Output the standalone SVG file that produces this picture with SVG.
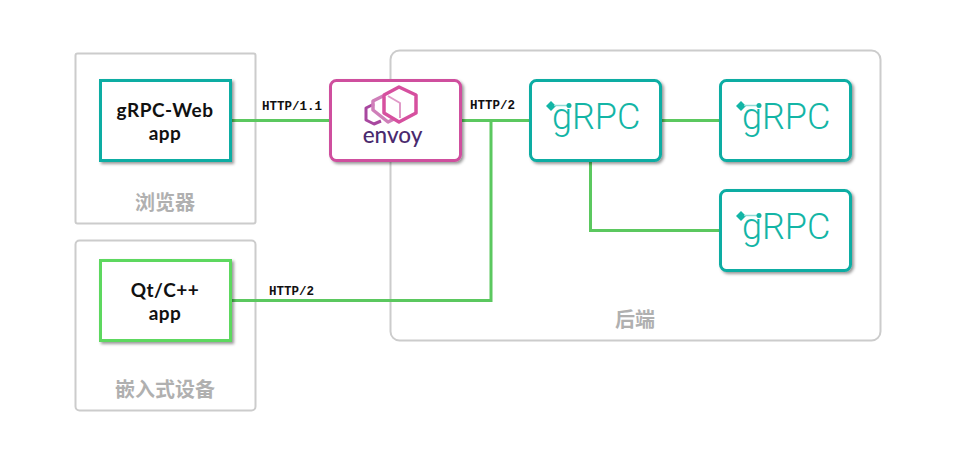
<svg xmlns="http://www.w3.org/2000/svg" width="960" height="460" viewBox="0 0 960 460">
<defs>
<filter id="sh" x="-10%" y="-10%" width="125%" height="125%"><feDropShadow dx="2" dy="2" stdDeviation="1.600" flood-color="#000" flood-opacity="0.4"/></filter>
<g id="grpc-logo">
<path d="M0-5L5 0L0 5L-5 0Z" transform="translate(5 1)" fill="#13b5a6"/>
<line x1="8" y1="0.500" x2="23" y2="0.500" stroke="#8fdcd5" stroke-width="1.500"/>
<circle cx="23" cy="0.500" r="2.500" fill="#13b5a6"/>
<text x="6" y="24" class="logo">gRPC</text>
</g>
</defs>
<style>
.grp{fill:#fff;stroke:#ccc;stroke-width:2}
.card{fill:#fff;stroke-width:3;filter:url(#sh)}
.teal{stroke:#0aada3}
.green{stroke:#5dd85f}
.pink{stroke:#cf4f9e}
.conn{fill:none;stroke:#5bc85f;stroke-width:3}
.lab{font:700 12.500px "Liberation Mono","DejaVu Sans Mono",monospace;fill:#111}
.app{font:700 19px Lato,"Noto Sans","Noto Sans CJK SC",sans-serif;fill:#111;text-anchor:middle;letter-spacing:.5px}
.cap{font:700 20px "Noto Sans CJK SC","Noto Sans",sans-serif;fill:#b0b0b0;text-anchor:middle}
.logo{font:300 36px Roboto,"Open Sans",sans-serif;fill:#13b5a6}
.hex{fill:none;stroke-linejoin:round}
</style>
<g id="group-browser"><rect class="grp" x="75.500" y="53.500" width="180" height="170" rx="2"/><text class="cap" x="165" y="210">浏览器</text></g>
<g id="group-device"><rect class="grp" x="75.500" y="240.500" width="180" height="170" rx="4"/><text class="cap" x="165" y="397">嵌入式设备</text></g>
<g id="group-backend"><rect class="grp" x="390.500" y="50.500" width="490" height="290" rx="9"/><text class="cap" x="635" y="327">后端</text></g>
<g id="connectors">
<path class="conn" d="M230 120.500H332"/>
<path class="conn" d="M460 120.500H532"/>
<path class="conn" d="M230 300.500H491V120.500"/>
<path class="conn" d="M660 120.500H722"/>
<path class="conn" d="M590.500 160V230.500H722"/>
</g>
<g id="labels">
<text class="lab" x="262" y="110">HTTP/1.1</text>
<text class="lab" x="470" y="109">HTTP/2</text>
<text class="lab" x="269" y="295">HTTP/2</text>
</g>
<g id="node-web"><rect class="card teal" x="100.500" y="80.500" width="130" height="80"/><text class="app" x="165" y="117">gRPC-Web</text><text class="app" x="165" y="140">app</text></g>
<g id="node-qt"><rect class="card green" x="100.500" y="260.500" width="130" height="80"/><text class="app" x="165" y="297">Qt/C++</text><text class="app" x="165" y="320">app</text></g>
<g id="node-envoy"><rect class="card pink" x="330.500" y="80.500" width="130" height="80" rx="6"/>
<path class="hex" stroke="#a8479f" stroke-width="3" d="M374 104L366 108V120L374 124L381 121"/>
<path class="hex" stroke="#cf7fb9" stroke-width="3.500" d="M383 96L373 101V110L383 118L388 122L394 119"/>
<path class="hex" stroke="#e09ac8" stroke-width="2" d="M388 96L400 103V118"/>
<path class="hex" stroke="#d6509f" stroke-width="3.500" d="M399 87L416 95V113L399 122L384 113V95Z"/>
<text x="392.500" y="143" text-anchor="middle" style="font:500 22.500px Lato,'Open Sans',sans-serif;fill:#4a2a6e">envoy</text></g>
<g id="node-grpc-1"><rect class="card teal" x="530.500" y="80.500" width="130" height="80" rx="6"/><use href="#grpc-logo" x="546" y="105"/></g>
<g id="node-grpc-2"><rect class="card teal" x="720.500" y="80.500" width="130" height="80" rx="6"/><use href="#grpc-logo" x="736" y="105"/></g>
<g id="node-grpc-3"><rect class="card teal" x="720.500" y="190.500" width="130" height="80" rx="6"/><use href="#grpc-logo" x="736" y="215"/></g>
</svg>
